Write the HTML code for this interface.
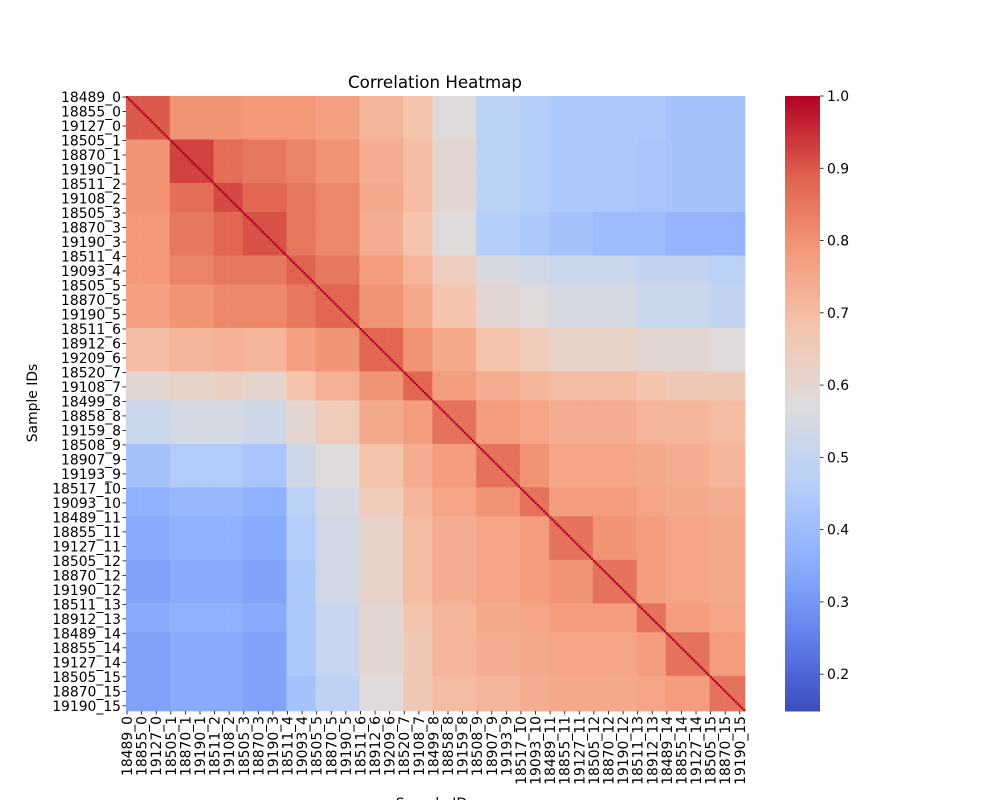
<!DOCTYPE html>
<html><head><meta charset="utf-8">
<style>
html,body{margin:0;padding:0;background:#fff;}
svg{display:block;font-family:"DejaVu Sans","Liberation Sans",sans-serif;}
</style></head>
<body>
<svg id="chart" width="1000" height="800" viewBox="0 0 1000 800">
<text x="435" y="88" text-anchor="middle" font-size="16.7" fill="#000">Correlation Heatmap</text>
<text x="37" y="403" text-anchor="middle" font-size="13.9" fill="#000" transform="rotate(-90 37 403)">Sample IDs</text>
<text x="435" y="808" text-anchor="middle" font-size="13.9" fill="#000">Sample IDs</text>
<g id="cells"></g>
<g id="ylabels"></g>
<g id="xlabels"></g>
<g id="cbar"></g>
</svg>
<script>
const sampleLabels = ["18489_0","18855_0","19127_0","18505_1","18870_1","19190_1","18511_2","19108_2","18505_3","18870_3","19190_3","18511_4","19093_4","18505_5","18870_5","19190_5","18511_6","18912_6","19209_6","18520_7","19108_7","18499_8","18858_8","19159_8","18508_9","18907_9","19193_9","18517_10","19093_10","18489_11","18855_11","19127_11","18505_12","18870_12","19190_12","18511_13","18912_13","18489_14","18855_14","19127_14","18505_15","18870_15","19190_15"];
const groupOfLabel = [0,0,0,1,1,1,2,2,3,3,3,4,4,5,5,5,6,6,6,7,7,8,8,8,9,9,9,10,10,11,11,11,12,12,12,13,13,14,14,14,15,15,15];
const groupCorr = [
[0.90,0.80,0.80,0.79,0.79,0.77,0.72,0.68,0.58,0.48,0.46,0.44,0.44,0.44,0.42,0.42],
[0.80,0.93,0.87,0.85,0.83,0.80,0.74,0.70,0.60,0.48,0.46,0.44,0.44,0.43,0.42,0.42],
[0.80,0.87,0.92,0.88,0.85,0.82,0.75,0.70,0.60,0.48,0.46,0.44,0.44,0.43,0.42,0.42],
[0.79,0.85,0.88,0.91,0.85,0.82,0.74,0.68,0.58,0.46,0.44,0.42,0.40,0.40,0.38,0.38],
[0.79,0.83,0.85,0.85,0.89,0.85,0.78,0.72,0.64,0.56,0.54,0.52,0.52,0.50,0.50,0.48],
[0.77,0.80,0.82,0.82,0.85,0.88,0.80,0.75,0.68,0.60,0.58,0.55,0.55,0.52,0.52,0.50],
[0.70,0.72,0.73,0.72,0.77,0.80,0.88,0.80,0.75,0.68,0.65,0.62,0.62,0.60,0.60,0.58],
[0.60,0.62,0.63,0.61,0.68,0.73,0.80,0.88,0.78,0.74,0.72,0.70,0.70,0.68,0.66,0.66],
[0.52,0.55,0.55,0.53,0.60,0.65,0.75,0.78,0.86,0.78,0.76,0.74,0.74,0.72,0.72,0.70],
[0.42,0.45,0.45,0.43,0.53,0.58,0.68,0.74,0.78,0.86,0.80,0.76,0.76,0.75,0.74,0.72],
[0.37,0.39,0.39,0.37,0.48,0.55,0.65,0.72,0.76,0.80,0.86,0.78,0.78,0.76,0.75,0.74],
[0.35,0.37,0.37,0.35,0.46,0.54,0.62,0.70,0.74,0.76,0.78,0.86,0.80,0.78,0.76,0.75],
[0.33,0.35,0.35,0.33,0.44,0.54,0.62,0.70,0.74,0.76,0.78,0.80,0.86,0.78,0.76,0.75],
[0.35,0.37,0.37,0.35,0.44,0.51,0.60,0.68,0.72,0.75,0.76,0.78,0.78,0.86,0.78,0.76],
[0.33,0.35,0.35,0.33,0.44,0.51,0.60,0.66,0.72,0.74,0.75,0.76,0.76,0.78,0.86,0.78],
[0.33,0.35,0.35,0.33,0.42,0.49,0.58,0.66,0.70,0.72,0.74,0.75,0.75,0.76,0.78,0.86]
];
const colorbarTicks = [0.2,0.3,0.4,0.5,0.6,0.7,0.8,0.9,1.0];
const vMin = 0.149, vMax = 1.0;
const nRows = 297, perLabel = 7;

const NS = "http://www.w3.org/2000/svg";
const X0 = 126, Y0 = 96, W = 619, H = 615;
const cw = W / nRows, ch = H / nRows;
const xPos = i => X0 + i * cw;
const yPos = i => Y0 + i * ch;
const stops = [[58,76,192],[98,130,234],[141,176,254],[184,208,249],[221,220,220],[245,196,173],[244,154,123],[222,96,77],[180,4,38]];
function color(v){
  let t = Math.max(0, Math.min(1, (v - vMin) / (vMax - vMin))) * 8;
  const i = Math.min(7, Math.floor(t)), f = t - i;
  const a = stops[i], b = stops[i+1];
  return "rgb(" + a.map((c,k)=>Math.round(c + (b[k]-c)*f)).join(",") + ")";
}
function mk(tag, attrs, parent){
  const e = document.createElementNS(NS, tag);
  for (const k in attrs) e.setAttribute(k, attrs[k]);
  parent.appendChild(e); return e;
}
const cells = document.getElementById("cells");
const nL = sampleLabels.length;
for (let r = 0; r < nL; r++){
  for (let c = 0; c < nL; c++){
    const r0 = r*perLabel, r1 = Math.min(nRows, r0+perLabel);
    const c0 = c*perLabel, c1 = Math.min(nRows, c0+perLabel);
    const v = groupCorr[groupOfLabel[r]][groupOfLabel[c]];
    const el = mk("rect", {x: xPos(c0), y: yPos(r0), width: xPos(c1)-xPos(c0)+0.3, height: yPos(r1)-yPos(r0)+0.3, fill: color(v)}, cells);
    
    
  }
}
for (let i = 0; i < nRows; i++){
  const d = mk("rect", {x: xPos(i), y: yPos(i), width: cw+0.2, height: ch+0.2, fill: color(1.0)}, cells);
  
  
}
const yl = document.getElementById("ylabels"), xl = document.getElementById("xlabels");
sampleLabels.forEach((lab, k) => {
  const idx = k*perLabel + 0.5;
  const y = yPos(idx), x = xPos(idx);
  mk("line", {x1: X0-3.5, x2: X0, y1: y, y2: y, stroke: "#000", "stroke-width": 0.8}, yl);
  const t = mk("text", {x: X0-5, y: y+5, "text-anchor": "end", "font-size": 13.9, fill: "#000"}, yl);
  t.textContent = lab;
  
  
  mk("line", {x1: x, x2: x, y1: Y0+H, y2: Y0+H+3.5, stroke: "#000", "stroke-width": 0.8}, xl);
  const u = mk("text", {x: x+5, y: Y0+H+5, "text-anchor": "end", "font-size": 13.9, fill: "#000", transform: "rotate(-90 " + (x+5) + " " + (Y0+H+5) + ")"}, xl);
  u.textContent = lab;
  
  
});
const cb = document.getElementById("cbar");
const CX = 785, CW = 35;
const cy = v => Y0 + (vMax - v) / (vMax - vMin) * H;
for (let i = 0; i < 200; i++){
  const v = vMax - (vMax - vMin) * i / 200;
  mk("rect", {x: CX, y: Y0 + H*i/200, width: CW, height: H/200 + 0.5, fill: color(v)}, cb);
}
colorbarTicks.forEach(v => {
  const y = cy(v);
  mk("line", {x1: CX+CW, x2: CX+CW+3.5, y1: y, y2: y, stroke: "#000", "stroke-width": 0.8}, cb);
  const t = mk("text", {x: CX+CW+7, y: y+5, "font-size": 13.9, fill: "#000"}, cb);
  t.textContent = v.toFixed(1);
  
  
});
</script>
</body></html>
